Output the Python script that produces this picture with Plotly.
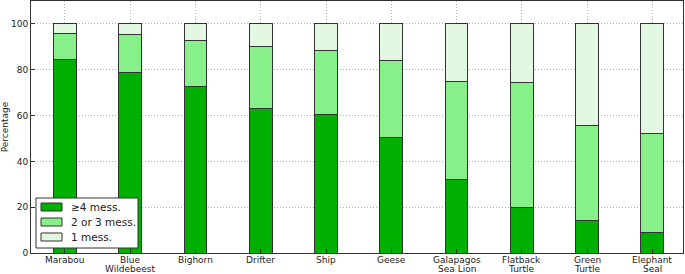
import plotly.graph_objects as go

categories = ["Marabou", "Blue<br>Wildebeest", "Bighorn", "Drifter", "Ship", "Geese",
              "Galapagos<br>Sea Lion", "Flatback<br>Turtle", "Green<br>Turtle", "Elephant<br>Seal"]
ge4 = [84.6, 78.9, 72.6, 63.2, 60.6, 50.3, 31.9, 19.8, 14.4, 8.9]
two_three = [11.0, 16.4, 20.3, 26.9, 27.6, 33.8, 43.1, 54.6, 41.4, 43.4]
one = [round(100 - a - b, 1) for a, b in zip(ge4, two_three)]

series_names = ["≥4 mess.", "2 or 3 mess.", "1 mess."]
colors = ["#00b000", "#88f088", "#e2f8e2"]

xs = list(range(len(categories)))
fig = go.Figure()
for name, vals, col in zip(series_names, [ge4, two_three, one], colors):
    fig.add_trace(go.Bar(x=xs, y=vals, name=name, width=0.35,
                         marker=dict(color=col, line=dict(color="#333333", width=1)),
                         showlegend=False))

fig.update_layout(
    barmode="stack",
    width=685, height=274,
    margin=dict(l=31, r=2, t=1, b=21, autoexpand=False),
    paper_bgcolor="white", plot_bgcolor="white",
    font=dict(family="DejaVu Sans", size=9, color="#222222"),
)
fig.update_xaxes(range=[-0.52, 9.47], tickmode="array", tickvals=xs, showticklabels=False,
                 showgrid=True, gridcolor="#b0b0b0", griddash="1px,2px", gridwidth=1,
                 showline=True, linecolor="#333333", linewidth=1, mirror=True, automargin=False,
                 ticks="inside", ticklen=4, tickcolor="#333333")
fig.update_yaxes(range=[0, 110], tickvals=[0, 20, 40, 60, 80, 100], automargin=False,
                 showgrid=True, gridcolor="#b0b0b0", griddash="1px,2px", gridwidth=1,
                 showline=True, linecolor="#333333", linewidth=1, mirror=True,
                 ticks="inside", ticklen=4, tickcolor="#333333", tickfont=dict(size=9),
                 title=dict(text="Percentage", font=dict(size=9), standoff=4), zeroline=False)

pw = 685 - 31 - 2
ph = 274 - 1 - 21
def px(x): return (x - 31) / pw
def py(y): return (274 - 21 - y) / ph

# category labels (two-line labels with tight line spacing)
for xi, cat in zip(xs, categories):
    for li, line in enumerate(cat.split("<br>")):
        fig.add_annotation(xref="x", yref="paper", x=xi, y=py(260 + 9 * li), text=line,
                           showarrow=False, xanchor="center", yanchor="middle",
                           font=dict(size=9, color="#222222"))

# manual legend box
fig.add_shape(type="rect", xref="paper", yref="paper", x0=px(36), x1=px(138), y0=py(248), y1=py(198),
              line=dict(color="#333333", width=1), fillcolor="white", layer="above")
for i, (name, col) in enumerate(zip(series_names, colors)):
    yc = 207 + i * 15
    fig.add_shape(type="rect", xref="paper", yref="paper", x0=px(41), x1=px(62),
                  y0=py(yc + 4), y1=py(yc - 4), line=dict(color="#333333", width=1),
                  fillcolor=col, layer="above")
    fig.add_annotation(xref="paper", yref="paper", x=px(69), y=py(yc), text=name,
                       showarrow=False, xanchor="left", yanchor="middle",
                       font=dict(size=10.5, color="#222222"))

fig.write_html("out.html", config={"displayModeBar": False},
               post_script="document.body.style.margin='0';document.body.style.overflow='hidden';")
